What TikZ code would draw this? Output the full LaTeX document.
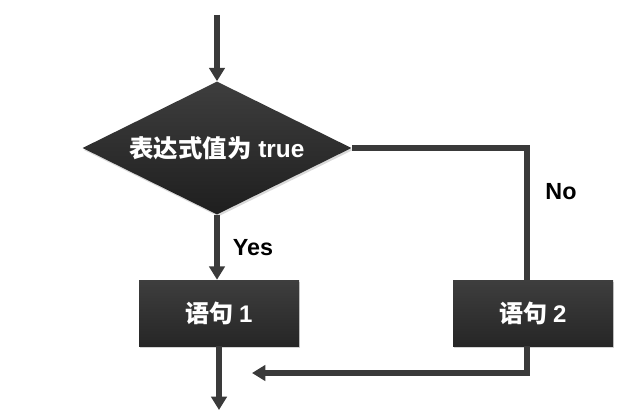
\documentclass[tikz,border=0pt]{standalone}
\usepackage{fontspec}
\setmainfont{Liberation Sans}
\newfontfamily\cjk{Noto Sans CJK SC}
\usetikzlibrary{arrows.meta,shapes.geometric,shadows}
\definecolor{linec}{HTML}{3A3A3A}
\definecolor{boxtop}{HTML}{3E3E3E}
\definecolor{boxbot}{HTML}{262626}
\tikzset{
  conn/.style={draw=linec, line width=3.8pt},
  arr/.style={conn, -{Triangle[width=11.5pt,length=10pt]}},
  stmt/.style={rectangle, minimum width=120pt, minimum height=49.5pt, inner sep=0pt,
    top color=boxtop, bottom color=boxbot, draw=none,
    drop shadow={shadow xshift=1pt, shadow yshift=-1.5pt, opacity=0.35},
    text=white, font=\cjk\bfseries\fontsize{18}{20}\selectfont},
  cond/.style={diamond, aspect=2, minimum width=201.75pt, minimum height=99.75pt, inner sep=0pt,
    top color=boxtop, bottom color=boxbot!80!black, draw=none,
    drop shadow={shadow xshift=1pt, shadow yshift=-1.5pt, opacity=0.3},
    text=white, font=\bfseries\fontsize{18.3}{20}\selectfont},
  lbl/.style={text=black, font=\bfseries\fontsize{17.5}{20}\selectfont},
}
\begin{document}
\begin{tikzpicture}[x=0.75pt,y=-0.75pt]
\useasboundingbox (0,0) rectangle (641,417);
\node[cond] (d) at (217,148) {{\cjk 表达式值为} true};
\node[stmt] (b1) at (219,313) {语句 {\fontspec{Liberation Sans}\bfseries 1}};
\node[stmt] (b2) at (533,313) {语句 {\fontspec{Liberation Sans}\bfseries 2}};
\coordinate (start) at (217,15);
\coordinate (c1) at (527,148);
\coordinate (c2) at (527,373);
\coordinate (c3) at (252,373);
\coordinate (end) at (219,410);
\draw[arr] (start) -- (d.north);
\draw[arr] (d.south) -- (d.south |- b1.north);
\draw[conn] (d.east) -- (c1) -- (c1 |- b2.north);
\draw[arr] (c1 |- b2.south) -- (c2) -- (c3);
\draw[arr] (b1.south) -- (end);
\node[lbl] (yes) at (253,248) {Yes};
\node[lbl] (no) at (561,192) {No};
\end{tikzpicture}
\end{document}
